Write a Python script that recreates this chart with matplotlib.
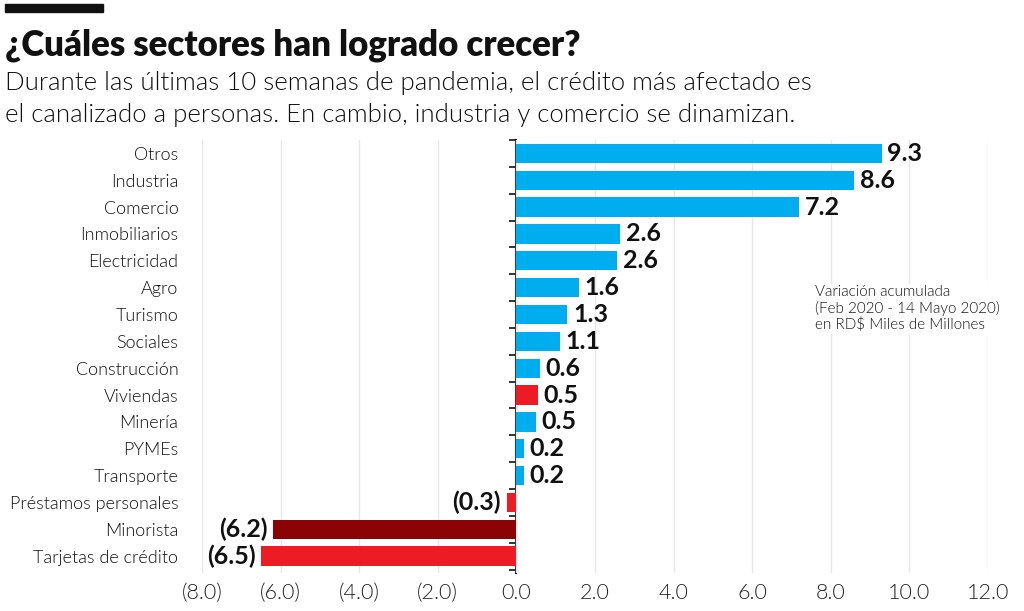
import matplotlib.pyplot as plt
from matplotlib.patches import Rectangle

# data
sectores = ["Otros", "Industria", "Comercio", "Inmobiliarios", "Electricidad", "Agro",
            "Turismo", "Sociales", "Construcción", "Viviendas", "Minería", "PYMEs",
            "Transporte", "Préstamos personales", "Minorista", "Tarjetas de crédito"]
valores = [9.3, 8.6, 7.2, 2.64, 2.57, 1.6, 1.3, 1.1, 0.6, 0.55, 0.5, 0.2, 0.2, -0.25, -6.2, -6.5]
etiquetas = ["9.3", "8.6", "7.2", "2.6", "2.6", "1.6", "1.3", "1.1", "0.6", "0.5", "0.5",
             "0.2", "0.2", "(0.3)", "(6.2)", "(6.5)"]
colores = ["#00AEEF"] * 9 + ["#ED1C24"] + ["#00AEEF"] * 3 + ["#ED1C24", "#8B0304", "#ED1C24"]
xticks = [-8, -6, -4, -2, 0, 2, 4, 6, 8, 10, 12]
xticklabels = ["(8.0)", "(6.0)", "(4.0)", "(2.0)", "0.0", "2.0", "4.0", "6.0", "8.0", "10.0", "12.0"]

titulo = "¿Cuáles sectores han logrado crecer?"
subtitulo = ("Durante las últimas 10 semanas de pandemia, el crédito más afectado es\n"
             "el canalizado a personas. En cambio, industria y comercio se dinamizan.")
nota = "Variación acumulada\n(Feb 2020 - 14 Mayo 2020)\nen RD$ Miles de Millones"

plt.rcParams['font.family'] = ['Lato', 'DejaVu Sans']
LIGHT = 300

fig = plt.figure(figsize=(10.24, 6.11), dpi=100)
ax = fig.add_axes([202/1024, 1-573/611, (988-202)/1024, (573-140)/611])

pos = list(range(len(sectores)))
ax.barh(pos, valores, height=0.72, color=colores, zorder=2)

for p, v, t in zip(pos, valores, etiquetas):
    if v >= 0:
        ax.annotate(t, (v, p), xytext=(4, 0), textcoords="offset points",
                    ha="left", va="center", fontsize=18, fontweight="bold", color="#111111")
    else:
        ax.annotate(t, (v, p), xytext=(-4, 0), textcoords="offset points",
                    ha="right", va="center", fontsize=18, fontweight="bold", color="#111111")

ax.set_xlim(-8, 12)
ax.set_ylim(15.63, -0.5)
ax.set_xticks(xticks)
ax.set_xticklabels(xticklabels, fontsize=15.5, fontweight=LIGHT, color="#222222")
ax.set_yticks(pos)
ax.set_yticklabels(sectores, fontsize=13, fontweight=LIGHT, color="#111111")
ax.tick_params(axis="x", length=0, pad=7)
ax.tick_params(axis="y", length=0, pad=17)
ax.grid(axis="x", color="#e8e8e8", linewidth=1, zorder=0)
for s in ax.spines.values():
    s.set_visible(False)

# zero line with small ticks between the bars
zero = ax.secondary_yaxis(8/20)
zero.set_yticks([p - 0.5 for p in pos] + [pos[-1] + 0.5])
zero.set_yticklabels([])
zero.tick_params(axis="y", direction="out", length=5, width=1.2, color="#111111")
zero.spines["left"].set_linewidth(1.5)
zero.spines["left"].set_color("#111111")

ax.text(0.78, 0.61, nota, transform=ax.transAxes, fontsize=11, fontweight=LIGHT,
        color="#111111", va="center", ha="left", linespacing=1.12,
        bbox=dict(facecolor="white", edgecolor="none", pad=1), zorder=3)

fig.patches.append(Rectangle((5/1024, 1-12/611), 98/1024, 8/611,
                             transform=fig.transFigure, color="#111111"))
fig.text(5/1024, 1-45/611, titulo, fontsize=25, fontweight="heavy", color="#111111",
         va="center", ha="left")
fig.text(5/1024, 1-99/611, subtitulo, fontsize=18.5, fontweight=LIGHT, color="#111111",
         va="center", ha="left", linespacing=1.4)

fig.savefig("out.png", dpi=100)
